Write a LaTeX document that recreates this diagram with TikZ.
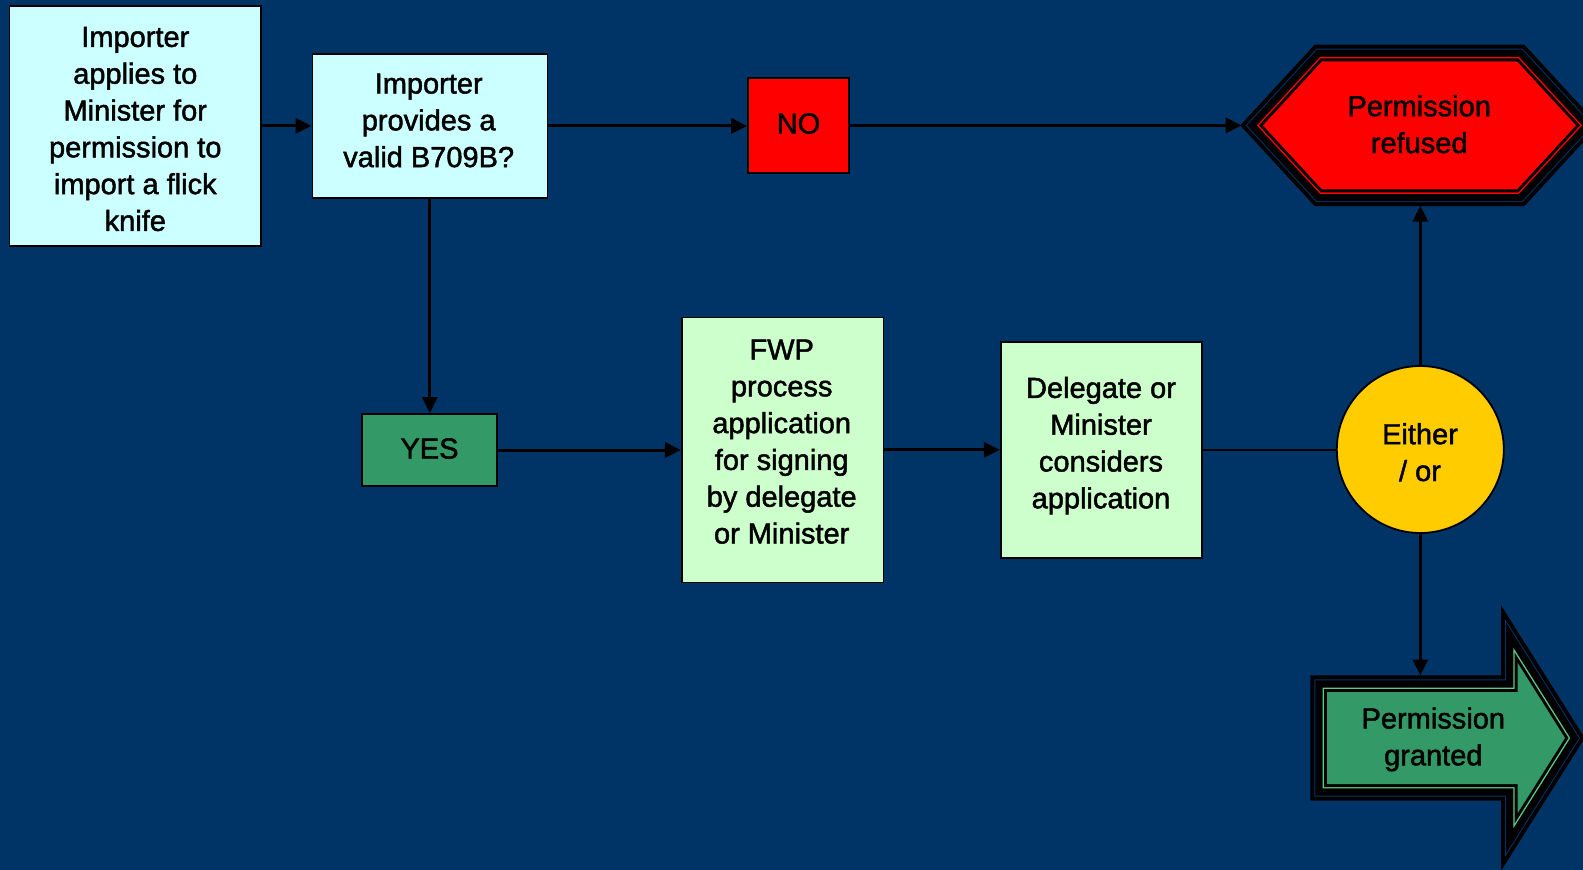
\documentclass[tikz,border=0pt]{standalone}
\usepackage{fontspec}
\setmainfont{Liberation Sans}[FakeBold=1.6]
\usetikzlibrary{arrows.meta}
\definecolor{bg}{HTML}{003366}
\definecolor{cyanbox}{HTML}{CCFFFF}
\definecolor{mintbox}{HTML}{CCFFCC}
\definecolor{yesgreen}{HTML}{339966}
\definecolor{goldfill}{HTML}{FFCC00}
\definecolor{lightgreen}{HTML}{5CCB8A}
\newcommand\fls{\rule{0pt}{30pt}}
\begin{document}
\begin{tikzpicture}[x=1pt,y=-1pt,
  box/.style={draw=black, line width=1.6pt, rectangle, inner sep=0pt},
  txt/.style={font=\fontsize{29}{36.8}\selectfont, align=center, inner sep=0pt, anchor=north, text=black},
  conn/.style={draw=black, line width=3pt, -{Triangle[length=16pt,width=15pt]}},
  thinconn/.style={draw=black, line width=1.8pt},
]
\useasboundingbox (0,0) rectangle (1583,870);
\clip (0,0) rectangle (1583,870);
\fill[bg] (0,0) rectangle (1583,870);

% boxes
\node[box, fill=cyanbox, minimum width=251.7pt, minimum height=240.3pt] (b1) at (135.2,125.9) {};
\node[box, fill=cyanbox, minimum width=235pt, minimum height=143.7pt] (b2) at (429.8,125.9) {};
\node[box, fill=red, minimum width=101pt, minimum height=95.3pt] (no) at (798.5,125.4) {};
\node[box, fill=yesgreen, minimum width=135pt, minimum height=72pt] (yes) at (429.5,450) {};
\node[box, fill=mintbox, minimum width=201.6pt, minimum height=265pt] (fwp) at (782.5,449.8) {};
\node[box, fill=mintbox, minimum width=201pt, minimum height=215.7pt] (del) at (1101.2,449.9) {};
\node[circle, draw=black, line width=1.8pt, fill=goldfill, minimum size=167pt, inner sep=0pt] (either) at (1420.3,449.5) {};

% Permission refused hexagon (layered outline)
\foreach \c/\w in {black/33.4, bg/25.4, black/23.4, red/8.8, black/6}
  \draw[\c, line width=\w pt, line join=miter]
    (1263,125.4) -- (1322,61.4) -- (1517,61.4) -- (1576,125.4) -- (1517,189.4) -- (1322,189.4) -- cycle;
\fill[red] (1263,125.4) -- (1322,61.4) -- (1517,61.4) -- (1576,125.4) -- (1517,189.4) -- (1322,189.4) -- cycle;
\coordinate (hexL) at (1241.7,125.4);
\coordinate (hexB) at (1420.3,205.6);

% Permission granted block arrow (layered outline)
\foreach \c/\w in {black/33.4, bg/25.4, black/23.4, lightgreen/8.8, black/6}
  \draw[\c, line width=\w pt, line join=miter]
    (1327,692) -- (1517.7,692) -- (1517.7,663) -- (1565,738) -- (1517.7,813) -- (1517.7,784) -- (1327,784) -- cycle;
\fill[yesgreen] (1327,692) -- (1517.7,692) -- (1517.7,663) -- (1565,738) -- (1517.7,813) -- (1517.7,784) -- (1327,784) -- cycle;
\coordinate (arrT) at (1420.3,675.5);

% texts
\node[txt] (t1) at (135.3,16.7) {\fls Importer\\applies to\\Minister for\\permission to\\import a flick\\knife};
\node[txt] (t2) at (428.7,63.3) {\fls Importer\\provides a\\valid B709B?};
\node[txt] (tno) at (798.5,103.3) {\fls NO};
\node[txt] (tyes) at (429.5,428.3) {\fls YES};
\node[txt] (tfwp) at (781.7,329.3) {\fls FWP\\process\\application\\for signing\\by delegate\\or Minister};
\node[txt] (tdel) at (1101,367.7) {\fls Delegate or\\Minister\\considers\\application};
\node[txt] (teither) at (1420,414) {\fls Either\\/ or};
\node[txt] (tref) at (1419.2,86) {\fls Permission\\refused};
\node[txt] (tgr) at (1433.3,698.3) {\fls Permission\\granted};

% connectors
\draw[conn] (b1.east) -- (b1.east -| b2.west);
\draw[conn] (b2.east) -- (b2.east -| no.west);
\draw[conn] (no.east) -- (no.east -| hexL);
\draw[conn] (b2.south) -- (b2.south |- yes.north);
\draw[conn] (yes.east) -- (yes.east -| fwp.west);
\draw[conn] (fwp.east) -- (fwp.east -| del.west);
\draw[thinconn] (del.east) -- (del.east -| either.west);
\draw[conn] (either.north) -- (hexB);
\draw[conn] (either.south) -- (arrT);
\end{tikzpicture}
\end{document}
